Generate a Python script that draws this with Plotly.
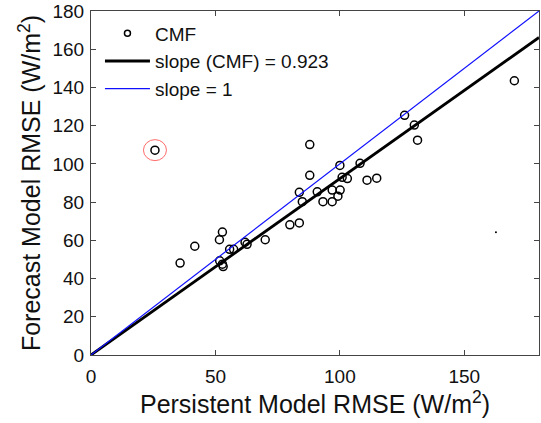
import plotly.graph_objects as go

# Data
persistent = [35.8, 41.7, 52.8, 51.6, 55.7, 57.3, 51.7, 52.8, 53.1, 61.9, 62.7, 70.0,
              79.9, 83.7, 84.9, 83.7, 87.9, 90.9, 93.2, 96.9, 96.9, 100.1, 99.2, 100.0,
              100.9, 103.0, 110.9, 114.8, 108.1, 87.9, 126.0, 129.9, 131.2, 170.1, 25.7]
forecast = [48.1, 56.9, 64.3, 60.3, 55.3, 55.3, 49.3, 47.5, 46.3, 59.0, 57.9, 60.3,
            68.1, 69.1, 80.2, 85.1, 94.0, 85.4, 80.2, 80.2, 86.3, 86.3, 83.1, 99.2,
            93.0, 92.3, 91.5, 92.5, 100.3, 110.1, 125.4, 120.3, 112.4, 143.5, 107.2]
outlier_x = 25.7
outlier_y = 107.2
stray_x = [162.7]
stray_y = [64.2]
slope_cmf = 0.923
slope_one = 1.0
line_x = [0, 180]
x_ticks = [0, 50, 100, 150]
y_ticks = [0, 20, 40, 60, 80, 100, 120, 140, 160, 180]

FONT = "Liberation Sans, Arial, Helvetica, sans-serif"

fig = go.Figure()
fig.add_trace(go.Scatter(
    x=persistent, y=forecast, mode="markers", name="CMF", showlegend=False,
    marker=dict(symbol="circle-open", size=8, color="black", line=dict(width=1.5)),
))
# legend entry for the CMF markers (smaller symbol like the reference legend)
fig.add_trace(go.Scatter(
    x=[None], y=[None], mode="markers", name="CMF",
    marker=dict(symbol="circle-open", size=6, color="black", line=dict(width=1.5)),
))
fig.add_trace(go.Scatter(
    x=line_x, y=[slope_cmf * v for v in line_x], mode="lines",
    name="slope (CMF) = 0.923", line=dict(color="black", width=2.8),
))
fig.add_trace(go.Scatter(
    x=line_x, y=[slope_one * v for v in line_x], mode="lines",
    name="slope = 1", line=dict(color="#1010ff", width=1.2),
))
fig.add_trace(go.Scatter(
    x=stray_x, y=stray_y, mode="markers", showlegend=False, hoverinfo="skip",
    marker=dict(size=2, color="black"),
))

fig.add_shape(type="circle", xref="x", yref="y",
              xsizemode="pixel", ysizemode="pixel",
              xanchor=outlier_x, yanchor=outlier_y,
              x0=-11.5, x1=11.5, y0=-10.5, y1=10.5,
              line=dict(color="#ff6b6b", width=1))

axis_common = dict(
    showgrid=False, zeroline=False, showline=True, linecolor="#444", linewidth=1,
    mirror="ticks", ticks="inside", ticklen=5, tickcolor="#444",
    tickfont=dict(size=19, color="#111", family=FONT), ticklabeloverflow="allow",
)
fig.update_xaxes(range=[0, 180], tickvals=x_ticks, ticklabelstandoff=4,
                 title=dict(text="Persistent Model RMSE (W/m<sup>2</sup>)",
                            font=dict(size=25, color="#111", family=FONT), standoff=6),
                 **axis_common)
fig.update_yaxes(range=[0, 180], tickvals=y_ticks, ticklabelstandoff=2,
                 title=dict(text="Forecast Model RMSE (W/m<sup>2</sup>)",
                            font=dict(size=25, color="#111", family=FONT), standoff=4),
                 **axis_common)

fig.update_layout(
    width=541, height=423,
    margin=dict(l=91, r=1, t=8, b=68),
    plot_bgcolor="white", paper_bgcolor="white",
    font=dict(family=FONT, color="#111"),
    legend=dict(x=0.02, y=0.99, xanchor="left", yanchor="top", itemwidth=45,
                bgcolor="rgba(0,0,0,0)", font=dict(size=19, family=FONT, color="#111"),
                tracegroupgap=0),
)

fig.write_html("out.html")
